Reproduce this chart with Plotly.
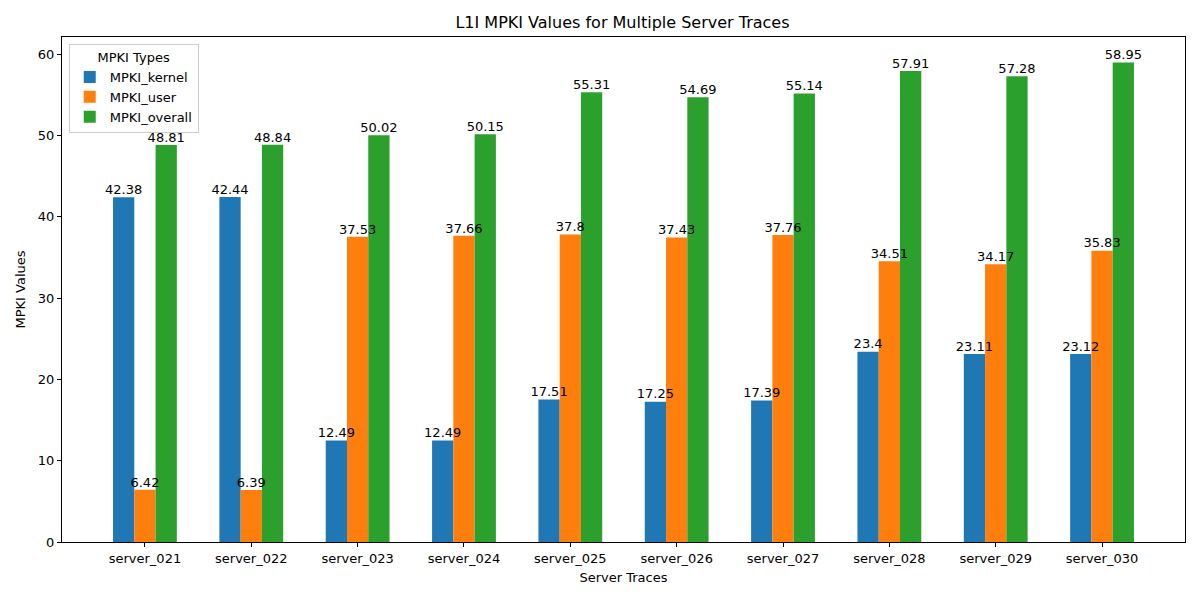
import plotly.graph_objects as go

traces = ["server_021", "server_022", "server_023", "server_024", "server_025",
          "server_026", "server_027", "server_028", "server_029", "server_030"]
mpki_kernel = [42.38, 42.44, 12.49, 12.49, 17.51, 17.25, 17.39, 23.4, 23.11, 23.12]
mpki_user = [6.42, 6.39, 37.53, 37.66, 37.8, 37.43, 37.76, 34.51, 34.17, 35.83]
mpki_overall = [48.81, 48.84, 50.02, 50.15, 55.31, 54.69, 55.14, 57.91, 57.28, 58.95]

series = [("MPKI_kernel", mpki_kernel, "#1f77b4", -0.2),
          ("MPKI_user", mpki_user, "#ff7f0e", 0.0),
          ("MPKI_overall", mpki_overall, "#2ca02c", 0.2)]

width = 0.2
idx = list(range(len(traces)))

fig = go.Figure()
for name, vals, color, off in series:
    fig.add_trace(go.Bar(
        x=[i + off for i in idx], y=vals, width=width, name=name,
        marker=dict(color=color, line=dict(width=0)),
    ))
# value labels drawn on top of all bars
for name, vals, color, off in series:
    fig.add_trace(go.Scatter(
        x=[i + off for i in idx], y=vals, mode="text",
        text=[f"{v:g}" for v in vals], textposition="top center",
        textfont=dict(size=13, color="black", family="DejaVu Sans"),
        showlegend=False, hoverinfo="skip", cliponaxis=False,
    ))

fig.update_layout(
    width=1184, height=584,
    barmode="overlay",
    plot_bgcolor="white", paper_bgcolor="white",
    font=dict(family="DejaVu Sans", size=13, color="black"),
    margin=dict(l=54, r=7, t=29, b=50),
    title=dict(text="L1I MPKI Values for Multiple Server Traces", x=0.519, xanchor="center",
               y=0.976, yanchor="middle", font=dict(size=16)),
    xaxis=dict(range=[-0.78, 9.78], tickvals=idx, ticktext=traces,
               showline=True, linecolor="black", linewidth=1, mirror=True, automargin=False,
               ticks="outside", ticklen=4, tickcolor="black", showgrid=False, zeroline=False,
               tickfont=dict(size=13),
               title=dict(text="Server Traces", standoff=8, font=dict(size=13))),
    yaxis=dict(range=[0, 62.1], tickvals=[0, 10, 20, 30, 40, 50, 60],
               showline=True, linecolor="black", linewidth=1, mirror=True, automargin=False,
               ticks="outside", ticklen=4, tickcolor="black", showgrid=False, zeroline=False,
               tickfont=dict(size=13),
               title=dict(text="MPKI Values", standoff=9, font=dict(size=13))),
    legend=dict(title=dict(text="MPKI Types", side="top center", font=dict(size=13)),
                x=0.006, y=0.986, xanchor="left", yanchor="top",
                bgcolor="rgba(255,255,255,0.8)", bordercolor="#cccccc", borderwidth=1,
                font=dict(size=13)),
)

fig.write_html("out.html")
